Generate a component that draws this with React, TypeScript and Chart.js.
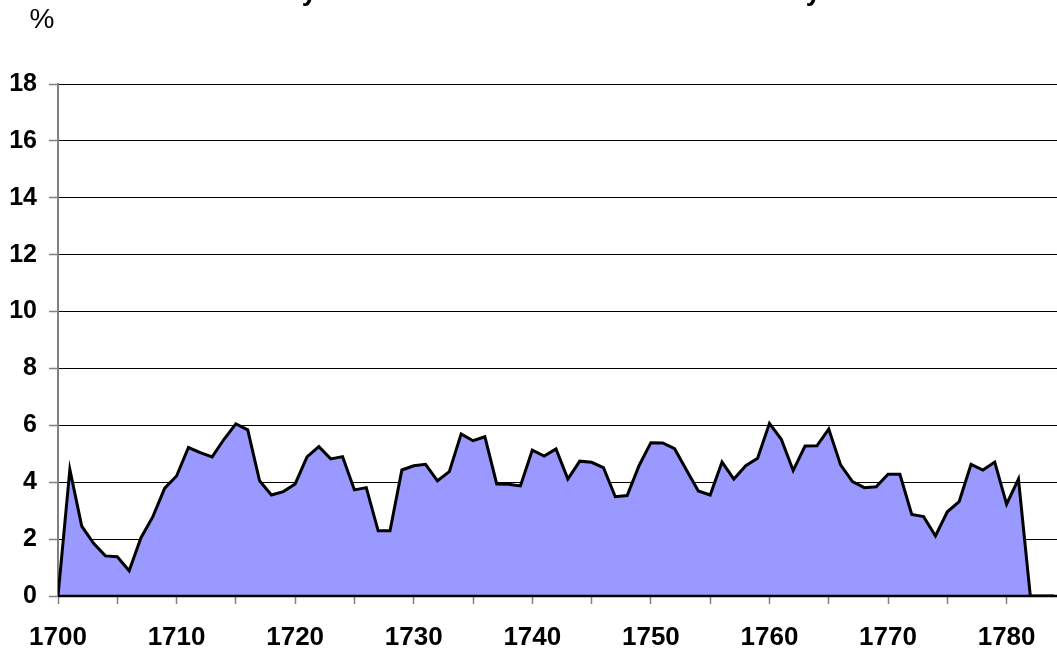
import React, { useEffect, useRef } from "react";
import { Chart, registerables } from "chart.js";

Chart.register(...registerables);

const TITLE = "Yearly share of total tithes in the 18th century";
const Y_UNIT = "%";

const years: number[] = [
  1700, 1701, 1702, 1703, 1704, 1705, 1706, 1707, 1708, 1709,
  1710, 1711, 1712, 1713, 1714, 1715, 1716, 1717, 1718, 1719,
  1720, 1721, 1722, 1723, 1724, 1725, 1726, 1727, 1728, 1729,
  1730, 1731, 1732, 1733, 1734, 1735, 1736, 1737, 1738, 1739,
  1740, 1741, 1742, 1743, 1744, 1745, 1746, 1747, 1748, 1749,
  1750, 1751, 1752, 1753, 1754, 1755, 1756, 1757, 1758, 1759,
  1760, 1761, 1762, 1763, 1764, 1765, 1766, 1767, 1768, 1769,
  1770, 1771, 1772, 1773, 1774, 1775, 1776, 1777, 1778, 1779,
  1780, 1781, 1782, 1783, 1784,
];

const values: number[] = [
  0, 4.45, 2.46, 1.85, 1.41, 1.38, 0.89, 2.05, 2.79, 3.79,
  4.22, 5.22, 5.04, 4.89, 5.51, 6.05, 5.84, 4.05, 3.55, 3.67,
  3.94, 4.89, 5.25, 4.82, 4.9, 3.73, 3.81, 2.29, 2.29, 4.43,
  4.58, 4.63, 4.05, 4.37, 5.7, 5.46, 5.6, 3.94, 3.93, 3.87,
  5.13, 4.92, 5.17, 4.11, 4.74, 4.7, 4.51, 3.49, 3.53, 4.58,
  5.39, 5.38, 5.18, 4.43, 3.69, 3.55, 4.71, 4.11, 4.58, 4.84,
  6.07, 5.51, 4.41, 5.27, 5.28, 5.87, 4.61, 4.02, 3.81, 3.84,
  4.28, 4.28, 2.87, 2.79, 2.11, 2.96, 3.32, 4.63, 4.43, 4.71,
  3.23, 4.11, 0, 0, 0,
];

const xTickValues: number[] = [
  1700, 1705, 1710, 1715, 1720, 1725, 1730, 1735, 1740, 1745,
  1750, 1755, 1760, 1765, 1770, 1775, 1780,
];
const xLabelValues: number[] = [1700, 1710, 1720, 1730, 1740, 1750, 1760, 1770, 1780];

const FONT = "'Liberation Sans', Arial, sans-serif";

const overlayPlugin = {
  id: "overlay",
  afterDatasetsDraw(chart: any) {
    const { ctx, chartArea, scales } = chart;
    const y0 = scales.y.getPixelForValue(0);
    ctx.save();
    ctx.strokeStyle = "#000000";
    ctx.lineWidth = 2.5;
    ctx.beginPath();
    ctx.moveTo(chartArea.left, y0);
    ctx.lineTo(chartArea.right, y0);
    ctx.stroke();
    ctx.restore();
  },
  afterDraw(chart: any) {
    const { ctx } = chart;
    ctx.save();
    ctx.fillStyle = "#000000";
    ctx.font = `bold 27px ${FONT}`;
    ctx.textAlign = "center";
    ctx.textBaseline = "alphabetic";
    ctx.fillText(TITLE, 529, 0);
    ctx.font = `28px ${FONT}`;
    ctx.textAlign = "center";
    ctx.textBaseline = "middle";
    ctx.fillText(Y_UNIT, 42, 20);
    ctx.restore();
  },
};

export default function App() {
  const ref = useRef<HTMLCanvasElement | null>(null);

  useEffect(() => {
    if (!ref.current) return;
    const points = years.map((yr, i) => ({ x: yr, y: values[i] }));
    const chart = new Chart(ref.current, {
      type: "line",
      data: {
        datasets: [
          {
            data: points,
            borderColor: "#000000",
            borderWidth: 3,
            backgroundColor: "#9999FF",
            fill: "origin",
            pointRadius: 0,
            tension: 0,
            borderJoinStyle: "miter",
          },
        ],
      },
      options: {
        responsive: false,
        animation: false,
        devicePixelRatio: 1,
        layout: { padding: { top: 84, right: 0, left: 0, bottom: 0 } },
        plugins: {
          legend: { display: false },
          title: { display: false },
          tooltip: { enabled: false },
        },
        scales: {
          x: {
            type: "linear",
            min: 1700,
            max: 1784.25,
            afterBuildTicks: (scale: any) => {
              scale.ticks = xTickValues.map((v) => ({ value: v }));
            },
            afterFit: (scale: any) => {
              scale.height = 57;
            },
            ticks: {
              autoSkip: false,
              maxRotation: 0,
              padding: 18,
              color: "#000000",
              font: { family: FONT, size: 26, weight: "bold" },
              callback: (v: any) => (xLabelValues.includes(Number(v)) ? String(v) : ""),
            },
            grid: {
              drawOnChartArea: false,
              tickLength: 8,
              tickColor: "#808080",
              tickWidth: 1.5,
            },
            border: { color: "#000000", width: 2 },
          },
          y: {
            min: 0,
            max: 18,
            afterFit: (scale: any) => {
              scale.width = 58;
            },
            ticks: {
              stepSize: 2,
              padding: 12,
              color: "#000000",
              font: { family: FONT, size: 25, weight: "bold" },
            },
            grid: {
              color: "#000000",
              lineWidth: 1,
              tickLength: 9,
              tickColor: "#808080",
              tickWidth: 1.5,
            },
            border: { color: "#808080", width: 2 },
          },
        },
      },
      plugins: [overlayPlugin],
    });
    return () => chart.destroy();
  }, []);

  return (
    <div style={{ position: "absolute", left: 0, top: 0, width: 1057, height: 653, background: "#ffffff" }}>
      <canvas ref={ref} width={1057} height={653} style={{ display: "block" }} />
    </div>
  );
}
